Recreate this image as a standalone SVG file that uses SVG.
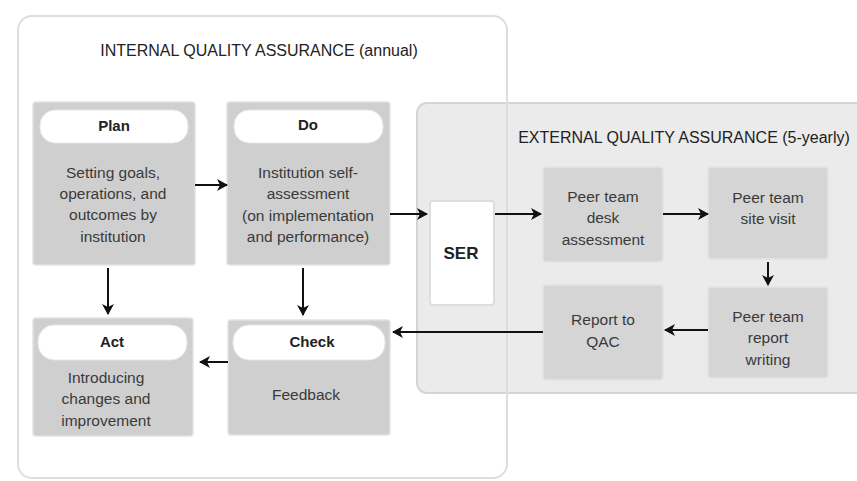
<svg xmlns="http://www.w3.org/2000/svg" width="857" height="481" viewBox="0 0 857 481">
<style>
.bg{fill:#ffffff}
.cont-int{fill:none;stroke:#dddddd;stroke-width:2}
.ext-fill{fill:#ebebeb}
.ext-edge{fill:none;stroke:#d4d4d4;stroke-width:2}
.box{fill:#cfcfcf;stroke:#e2e2e2;stroke-width:1.5}
.ebox{fill:#d5d5d5;stroke:#e4e4e4;stroke-width:1.5}
.hdr{fill:#ffffff;stroke:#e6e6e6;stroke-width:1}
.ser{fill:#ffffff;stroke:#dedede;stroke-width:2}
.title{font-family:"Liberation Sans",Arial,sans-serif;font-size:16px;fill:#222;text-anchor:middle}
.hl{font-family:"Liberation Sans",Arial,sans-serif;font-size:15px;font-weight:bold;fill:#222;text-anchor:middle}
.t{font-family:"Liberation Sans",Arial,sans-serif;font-size:15.5px;fill:#3a3a3a;text-anchor:middle}
.conn line{stroke:#111;stroke-width:2;marker-end:url(#ah)}
</style>
<defs>
<marker id="ah" markerUnits="userSpaceOnUse" markerWidth="11" markerHeight="12" refX="10" refY="6" orient="auto">
<path d="M0,0 L11,6 L0,12 L3,6 z" fill="#111"/>
</marker>
</defs>
<rect class="bg" x="0" y="0" width="857" height="481"/>

<g id="external">
<path class="ext-fill" d="M857,103 H427 A10,10 0 0 0 417,113 V383 A10,10 0 0 0 427,393 H857 Z"/>
<path class="ext-edge" d="M857,103 H427 A10,10 0 0 0 417,113 V383 A10,10 0 0 0 427,393 H857"/>
<text class="title" x="684" y="143">EXTERNAL QUALITY ASSURANCE (5-yearly)</text>
</g>

<g id="internal">
<rect class="cont-int" x="18" y="16" width="489" height="462" rx="14"/>
<text class="title" x="259" y="56">INTERNAL QUALITY ASSURANCE (annual)</text>
</g>

<g id="plan">
<rect class="box" x="33" y="102" width="162" height="163" rx="3"/>
<rect class="hdr" x="40" y="110" width="148" height="33" rx="15"/>
<text class="hl" x="114" y="131">Plan</text>
<text class="t" x="113" y="178">Setting goals,</text>
<text class="t" x="113" y="199">operations, and</text>
<text class="t" x="113" y="220">outcomes by</text>
<text class="t" x="113" y="242">institution</text>
</g>

<g id="do">
<rect class="box" x="227" y="102" width="163" height="163" rx="3"/>
<rect class="hdr" x="234" y="110" width="149" height="33" rx="15"/>
<text class="hl" x="308" y="130">Do</text>
<text class="t" x="308" y="178">Institution self-</text>
<text class="t" x="308" y="199">assessment</text>
<text class="t" x="308" y="221">(on implementation</text>
<text class="t" x="308" y="242">and performance)</text>
</g>

<g id="act">
<rect class="box" x="33" y="318" width="160" height="118" rx="3"/>
<rect class="hdr" x="38" y="325" width="149" height="35" rx="16"/>
<text class="hl" x="112" y="347">Act</text>
<text class="t" x="106" y="383">Introducing</text>
<text class="t" x="106" y="404">changes and</text>
<text class="t" x="106" y="426">improvement</text>
</g>

<g id="check">
<rect class="box" x="228" y="320" width="162" height="115" rx="3"/>
<rect class="hdr" x="233" y="325" width="152" height="35" rx="16"/>
<text class="hl" x="312" y="347">Check</text>
<text class="t" x="306" y="400">Feedback</text>
</g>

<g id="ser">
<rect class="ser" x="430" y="201" width="64" height="104" rx="3"/>
<text class="hl" x="461" y="259" style="font-size:17px">SER</text>
</g>

<g id="desk">
<rect class="ebox" x="543" y="167" width="120" height="95" rx="3"/>
<text class="t" x="603" y="202">Peer team</text>
<text class="t" x="603" y="223">desk</text>
<text class="t" x="603" y="245">assessment</text>
</g>

<g id="site">
<rect class="ebox" x="708" y="167" width="120" height="92" rx="3"/>
<text class="t" x="768" y="203">Peer team</text>
<text class="t" x="768" y="224">site visit</text>
</g>

<g id="writing">
<rect class="ebox" x="708" y="287" width="120" height="91" rx="3"/>
<text class="t" x="768" y="322">Peer team</text>
<text class="t" x="768" y="343">report</text>
<text class="t" x="768" y="365">writing</text>
</g>

<g id="qac">
<rect class="ebox" x="543" y="285" width="120" height="95" rx="3"/>
<text class="t" x="603" y="325">Report to</text>
<text class="t" x="603" y="347">QAC</text>
</g>

<g id="connectors" class="conn">
<line x1="195" y1="185" x2="227" y2="185"/>
<line x1="390" y1="214" x2="427" y2="214"/>
<line x1="495" y1="214" x2="541" y2="214"/>
<line x1="663" y1="214" x2="708" y2="214"/>
<line x1="768" y1="262" x2="768" y2="285"/>
<line x1="708" y1="330" x2="665" y2="330"/>
<line x1="543" y1="332" x2="393" y2="332"/>
<line x1="228" y1="362" x2="200" y2="362"/>
<line x1="108" y1="268" x2="108" y2="314"/>
<line x1="303" y1="268" x2="303" y2="315"/>
</g>
</svg>
